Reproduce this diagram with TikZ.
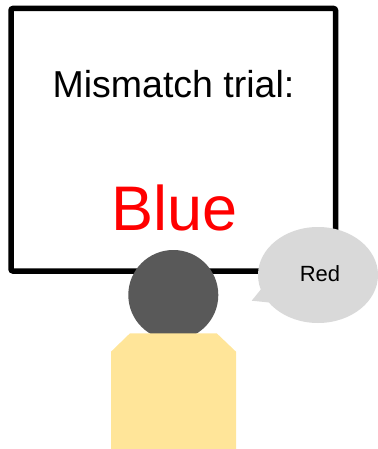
\documentclass[tikz,border=0pt]{standalone}
\usepackage{fontspec}
\setmainfont{Liberation Sans}
\usetikzlibrary{shapes.geometric}
\definecolor{headgrey}{HTML}{595959}
\definecolor{bodyyellow}{HTML}{FFE599}
\definecolor{bubblegrey}{HTML}{D9D9D9}
\begin{document}
\begin{tikzpicture}[x=1pt,y=-1pt,
  screen/.style={draw=black,line width=5.5pt,rounded corners=2pt,fill=white},
  caption/.style={font=\fontsize{37.5}{40}\selectfont,inner sep=0pt,anchor=base},
  word/.style={font=\fontsize{63}{70}\selectfont,text=red,inner sep=0pt,anchor=base},
  reply/.style={font=\fontsize{22}{24}\selectfont,inner sep=0pt,anchor=base}]
\useasboundingbox (0,0) rectangle (377,449);
% screen
\draw[screen] (11,8.5) rectangle (335.5,271);
\node[caption] (title) at (173.5,98) {Mismatch trial:};
\node[word] (stim) at (175,230) {Blue};
% speech bubble
\fill[bubblegrey] (318,275) ellipse [x radius=60,y radius=48];
\fill[bubblegrey] (251.7,300.7) -- (262,288) -- (274,303) -- cycle;
\node[reply] (answer) at (320,281.5) {Red};
% person
\fill[headgrey] (173.3,295) circle [radius=45];
\fill[bodyyellow] (111,351.7) -- (130,333.3) -- (216.7,333.3) -- (236,351.7)
  -- (236,449) -- (111,449) -- cycle;
\end{tikzpicture}
\end{document}
